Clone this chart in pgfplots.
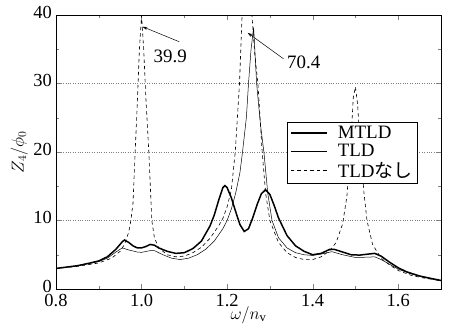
\documentclass[border=0pt]{standalone}
\usepackage{fontspec}
\setmainfont{Liberation Serif}
\newfontfamily\jp{Noto Sans CJK JP}
\usepackage{pgfplots}
\pgfplotsset{compat=1.18}
\usetikzlibrary{arrows.meta}
\begin{document}
\begin{tikzpicture}
\begin{axis}[
  scale only axis, width=385bp, height=274bp,
  xmin=0.8, xmax=1.7, ymin=0, ymax=40,
  xtick={0.8,1.0,1.2,1.4,1.6}, xticklabels={0.8,1.0,1.2,1.4,1.6},
  minor xtick={0.9,1.1,1.3,1.5,1.7},
  ytick={0,10,20,30,40}, yticklabels={0\hspace{3bp},10,20,30,40}, minor ytick={5,15,25,35},
  tick align=inside, xtick pos=both, ytick pos=both,
  major tick length=5bp, minor tick length=3bp,
  ymajorgrids, major grid style={dotted, gray},
  /pgf/number format/assume math mode=true,
  tick label style={font=\fontsize{18.5}{21}\selectfont, inner sep=1bp},
  xticklabel style={yshift=-4bp},
  yticklabel style={xshift=-3bp, yshift=3bp},
  label style={font=\fontsize{18}{21}\selectfont},
  xlabel={$\omega/n_\mathrm{v}$}, ylabel={$Z_4/\phi_0$},
  xlabel style={yshift=5bp},
  ylabel style={yshift=1bp},
  legend style={at={(0.6,0.609)}, anchor=north west, draw=black, font=\fontsize{19}{22}\selectfont, inner xsep=3bp, inner ysep=2bp, row sep=0bp, cells={anchor=west},
    /tikz/every odd column/.append style={column sep=8bp}},
  legend image code/.code={\draw[#1] (0bp,0bp) -- (36bp,0bp);},
  clip=true,
]
\addlegendimage{black, line width=1.6pt}
\addlegendentry{MTLD}
\addlegendimage{black, line width=0.4pt}
\addlegendentry{TLD}
\addlegendimage{black, line width=0.6pt, dash pattern=on 3.5pt off 3pt}
\addlegendentry{TLD{\jp なし}}
\addplot[black, line width=1.5pt, forget plot] coordinates {
(0.80,3.0) (0.85,3.4) (0.88,3.8) (0.90,4.1) (0.92,4.7) (0.94,5.8) (0.955,6.9) (0.96,7.15) (0.97,6.8) (0.98,6.3) (0.99,6.0) (1.00,6.0) (1.01,6.2) (1.02,6.5) (1.03,6.4) (1.04,6.0) (1.06,5.5) (1.08,5.2) (1.10,5.3) (1.12,5.9) (1.14,7.0) (1.16,9.2) (1.17,10.8) (1.18,12.9) (1.19,14.8) (1.195,15.1) (1.20,14.8) (1.21,13.3) (1.22,11.3) (1.23,9.4) (1.24,8.4) (1.25,8.8) (1.26,10.4) (1.27,12.3) (1.28,13.9) (1.29,14.5) (1.30,13.8) (1.31,12.2) (1.32,10.4) (1.34,7.8) (1.36,6.3) (1.38,5.5) (1.40,5.0) (1.42,5.2) (1.44,5.8) (1.45,5.8) (1.47,5.4) (1.49,5.0) (1.51,4.95) (1.53,5.1) (1.545,5.2) (1.56,4.8) (1.58,3.9) (1.60,3.1) (1.62,2.5) (1.65,1.9) (1.68,1.5) (1.70,1.25)
};
\addplot[black, line width=0.5pt, forget plot] coordinates {
(0.80,3.0) (0.85,3.4) (0.90,4.0) (0.92,4.5) (0.94,5.4) (0.955,6.0) (0.97,5.7) (0.99,5.4) (1.00,5.35) (1.02,5.6) (1.03,5.6) (1.05,5.0) (1.07,4.5) (1.09,4.3) (1.11,4.5) (1.13,5.0) (1.15,5.8) (1.17,7.0) (1.19,8.8) (1.20,10.0) (1.21,11.7) (1.22,14.0) (1.23,17.0) (1.236,20.0) (1.245,25.0) (1.25,30.0) (1.256,35.0) (1.262,38.2) (1.269,30.0) (1.278,24.0) (1.286,20.0) (1.295,14.0) (1.305,10.0) (1.32,7.5) (1.34,6.0) (1.36,5.3) (1.38,5.0) (1.40,4.9) (1.42,5.1) (1.445,5.45) (1.47,5.0) (1.50,4.6) (1.53,4.65) (1.545,4.7) (1.56,4.3) (1.58,3.6) (1.60,2.9) (1.63,2.2) (1.66,1.7) (1.70,1.2)
};
\addplot[black, line width=0.6pt, dash pattern=on 3.5pt off 3pt, forget plot] coordinates {
(0.80,3.0) (0.85,3.3) (0.90,3.8) (0.93,4.5) (0.95,5.5) (0.96,6.5) (0.97,8.3) (0.975,10) (0.98,12.5) (0.985,20) (0.99,27) (0.995,35) (1.00,39.9) (1.005,35) (1.01,28) (1.017,20) (1.024,10) (1.03,7.5) (1.04,6.0) (1.06,5.0) (1.08,4.7) (1.10,4.8) (1.12,5.3) (1.14,6.1) (1.16,7.4) (1.18,9.2) (1.19,10.3) (1.20,12.0) (1.21,14.5) (1.219,20) (1.229,30) (1.235,40) (1.241,55) (1.247,70.4) (1.253,55) (1.258,40) (1.265,34) (1.272,30) (1.282,20) (1.29,14) (1.30,10) (1.32,6.8) (1.34,5.3) (1.36,4.6) (1.38,4.3) (1.40,4.3) (1.42,4.7) (1.44,5.6) (1.455,6.8) (1.47,9.5) (1.48,13.5) (1.488,20) (1.495,28) (1.50,29.5) (1.505,27) (1.512,20) (1.52,14) (1.527,10) (1.54,6.5) (1.56,4.5) (1.58,3.5) (1.60,2.7) (1.63,2.0) (1.66,1.6) (1.70,1.2)
};
\draw[-{Stealth[length=5bp,width=3bp]}, line width=0.5pt] (axis cs:1.088,36.1) -- (axis cs:1.002,38.3);
\node[font=\fontsize{19}{22}\selectfont] at (axis cs:1.067,33.9) {39.9};
\draw[-{Stealth[length=5bp,width=3bp]}, line width=0.5pt] (axis cs:1.332,33.6) -- (axis cs:1.248,37.4);
\node[font=\fontsize{19}{22}\selectfont] at (axis cs:1.379,33.1) {70.4};
\end{axis}
\pgfresetboundingbox
\useasboundingbox ([shift={(-56bp,-43bp)}]current axis.south west) rectangle ([shift={(13bp,15bp)}]current axis.north east);
\end{tikzpicture}
\end{document}
